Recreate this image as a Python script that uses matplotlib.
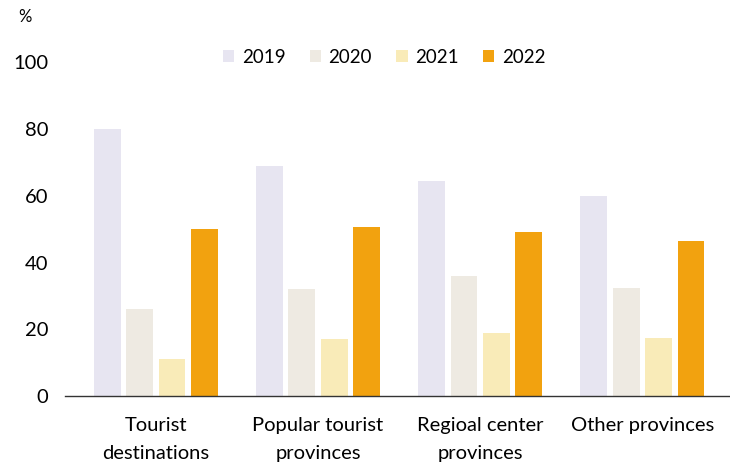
import matplotlib.pyplot as plt
import numpy as np

categories = ['Tourist\ndestinations', 'Popular tourist\nprovinces',
              'Regioal center\nprovinces', 'Other provinces']
years = ['2019', '2020', '2021', '2022']
v2019 = [80, 69, 64.5, 60]
v2020 = [26, 32, 36, 32.5]
v2021 = [11, 17, 19, 17.5]
v2022 = [50, 50.5, 49, 46.5]
colors = ['#e7e5f1', '#eeeae2', '#f9ebb8', '#f2a20f']

plt.rcParams['font.family'] = ['Lato', 'DejaVu Sans']

fig = plt.figure(figsize=(7.3, 4.7), dpi=100)
ax = fig.add_axes([0.089, 0.157, 0.911, 0.711])

x = np.arange(len(categories))
step = 0.2
width = 0.165
for i, (vals, yr) in enumerate(zip([v2019, v2020, v2021, v2022], years)):
    ax.bar(x + (i - 1.5) * step, vals, width, color=colors[i], label=yr)

ax.set_ylim(0, 100)
ax.set_xlim(-0.56, 3.54)
ax.set_yticks(range(0, 101, 20))
ax.set_xticks(x)
ax.set_xticklabels(categories, fontsize=14.5, linespacing=1.75)
ax.tick_params(axis='y', labelsize=14.5, length=0, pad=12)
ax.tick_params(axis='x', length=0, pad=15)
for s in ['top', 'right', 'left']:
    ax.spines[s].set_visible(False)
ax.spines['bottom'].set_color('#333333')
ax.spines['bottom'].set_linewidth(1.0)

ax.text(-0.06, 1.135, '%', transform=ax.transAxes, fontsize=12,
        ha='center', va='center')

ax.legend(loc='center', bbox_to_anchor=(0.48, 1.015), ncol=4, frameon=False,
          fontsize=13.5, handlelength=0.6, handleheight=0.6, handletextpad=0.4,
          columnspacing=1.3)

fig.savefig('out.png', dpi=100)
